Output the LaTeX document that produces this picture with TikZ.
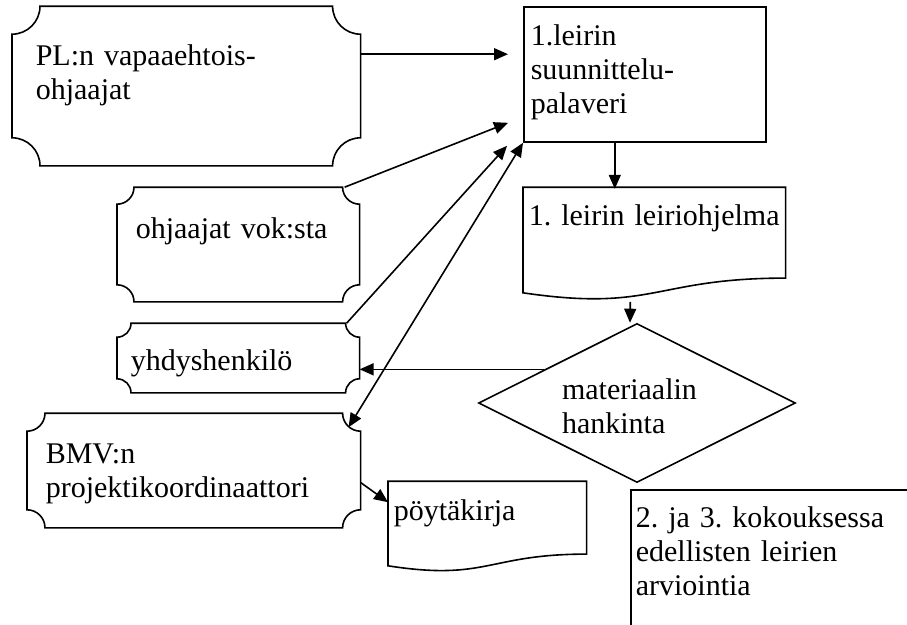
\documentclass[tikz,border=0pt]{standalone}
\usepackage{fontspec}
\setmainfont{Liberation Serif}
\usetikzlibrary{arrows.meta,shapes.geometric}

\tikzset{
  box/.style={draw,inner ysep=0pt,align=left},
  % frame with concave (scooped) corners
  plaque/.style={inner ysep=0pt,align=left,
    append after command={\pgfextra{\begin{pgfinterruptpath}
      \draw ([yshift=-#1]\tikzlastnode.north west) arc[start angle=-90,end angle=0,radius=#1]
        -- ([xshift=-#1]\tikzlastnode.north east) arc[start angle=180,end angle=270,radius=#1]
        -- ([yshift=#1]\tikzlastnode.south east) arc[start angle=90,end angle=180,radius=#1]
        -- ([xshift=#1]\tikzlastnode.south west) arc[start angle=0,end angle=90,radius=#1]
        -- cycle;
    \end{pgfinterruptpath}}}},
  % document sheet with wavy lower edge
  doc/.style 2 args={inner ysep=0pt,align=left,
    append after command={\pgfextra{\begin{pgfinterruptpath}
      \draw (\tikzlastnode.south west) -- (\tikzlastnode.north west)
        -- (\tikzlastnode.north east) -- ([yshift=#1]\tikzlastnode.south east)
        .. controls ([yshift=#1]\tikzlastnode.south) and ([yshift=-#2]\tikzlastnode.south)
        .. (\tikzlastnode.south west) -- cycle;
    \end{pgfinterruptpath}}}}
}

\begin{document}
\frenchspacing
\hyphenpenalty=10000
\begin{tikzpicture}[x=1pt,y=1pt,line width=1.6pt,>={Triangle[length=14pt,width=12pt]},
  every node/.style={font=\fontsize{30}{34}\selectfont}]
  \useasboundingbox (0,0) rectangle (907,-624);
  \node[plaque=28pt,anchor=base west,inner xsep=23pt,text width=301pt,text height=58pt,text depth=100pt] (pl) at (12,-65) {PL:n vapaaehtois-\\ohjaajat};
  \node[plaque=17pt,anchor=base west,inner xsep=18pt,text width=205pt,text height=50pt,text depth=63pt] (vok) at (117,-238) {ohjaajat vok:sta};
  \node[plaque=14pt,anchor=base west,inner xsep=13pt,text width=215pt,text height=46pt,text depth=22pt] (yh) at (117,-370) {yhdyshenkilö};
  \node[plaque=18pt,anchor=base west,inner xsep=18pt,text width=296pt,text height=49pt,text depth=64pt] (bmv) at (27,-463) {BMV:n\\projektikoordinaattori};
  \node[box,anchor=base west,inner xsep=7pt,text width=228pt,text height=38pt,text depth=97pt] (pal) at (523,-45) {1.leirin\\suunnittelu-\\palaveri};
  \node[doc={14.7pt}{19.4pt},anchor=base west,inner xsep=5pt,text width=251pt,text height=37pt,text depth=67pt] (ohj) at (523,-225) {1.~leirin~leiriohjelma};
  \node[draw,diamond,aspect=2,minimum width=317pt,minimum height=159pt,inner sep=2pt,align=left,text width=150pt,text height=28pt,text depth=36pt] (dia) at (637,-403) {materiaalin\\hankinta};
  \node[doc={11.7pt}{15.5pt},anchor=base west,inner xsep=5pt,text width=187pt,text height=38pt,text depth=45pt] (poy) at (388,-520) {pöytäkirja};
  \node[box,anchor=base west,inner xsep=5pt,text width=310pt,text height=37pt,text depth=140pt] (arv) at (630,-527) {2. ja 3. kokouksessa\\edellisten leirien\\arviointia};

  \draw[->] ([yshift=-48pt]pl.north east) -- ([xshift=-15pt,yshift=-48pt]pal.north west);
  \draw[->] ([xshift=-15pt]vok.north east) -- ([shift={(-15pt,20pt)}]pal.south west);
  \draw[->] ([xshift=-13pt]yh.north east) -- ([shift={(-16pt,-3pt)}]pal.south west);
  \draw[<->] ([shift={(-12pt,-14pt)}]bmv.north east) -- (pal.south west);
  \draw[->] ([xshift=-30pt]pal.south) -- ++(0,-46);
  \draw[->] ([xshift=-24pt,yshift=-9pt]ohj.south) -- ([xshift=-7pt]dia.north);
  \draw[->] (dia.160) -- (dia.160 -| yh.east);
  \draw[->] ([yshift=-12pt]bmv.east) -- ([yshift=-21pt]poy.north west);
\end{tikzpicture}
\end{document}
